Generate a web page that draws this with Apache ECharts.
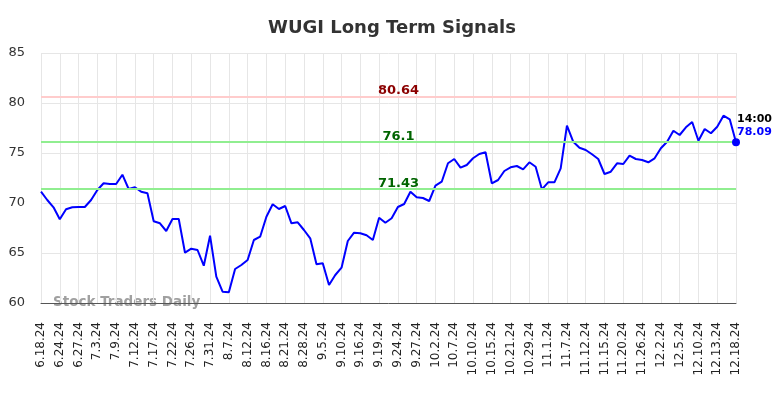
<!DOCTYPE html>
<html lang="en">
<head>
  <meta charset="UTF-8">
  <title>WUGI Long Term Signals</title>
  <script src="https://cdn.jsdelivr.net/npm/echarts@6/dist/echarts.min.js"></script>
  <style>
    body { margin: 0; background: #fff; }
    #chart { width: 784px; height: 398px; }
  </style>
</head>
<body>
<div id="chart"></div>
<script type="text/javascript">
  // x-axis tick labels, one every 3 points
  var tickLabels = ['6.18.24', '6.24.24', '6.27.24', '7.3.24', '7.9.24', '7.12.24', '7.17.24', '7.22.24',
    '7.26.24', '7.31.24', '8.7.24', '8.12.24', '8.16.24', '8.21.24', '8.28.24', '9.5.24', '9.10.24',
    '9.16.24', '9.19.24', '9.24.24', '9.27.24', '10.2.24', '10.7.24', '10.10.24', '10.15.24', '10.21.24',
    '10.29.24', '11.1.24', '11.7.24', '11.12.24', '11.15.24', '11.20.24', '11.26.24', '12.2.24', '12.5.24',
    '12.10.24', '12.13.24', '12.18.24'];

  var prices = [71.13, 70.3, 69.57, 68.37, 69.37, 69.57, 69.6, 69.6, 70.3, 71.3,
    71.97, 71.9, 71.9, 72.83, 71.4, 71.57, 71.13, 70.97, 68.18, 67.97,
    67.2, 68.4, 68.4, 65.03, 65.43, 65.3, 63.73, 66.73, 62.63, 61.13,
    61.07, 63.4, 63.8, 64.3, 66.3, 66.63, 68.63, 69.87, 69.4, 69.7,
    67.97, 68.07, 67.3, 66.47, 63.87, 63.97, 61.8, 62.8, 63.53, 66.2,
    67.03, 66.97, 66.77, 66.3, 68.53, 68.03, 68.47, 69.6, 69.9, 71.13,
    70.57, 70.5, 70.2, 71.73, 72.13, 73.97, 74.4, 73.53, 73.8, 74.47,
    74.9, 75.07, 71.97, 72.3, 73.2, 73.57, 73.7, 73.37, 74.07, 73.63,
    71.37, 72.07, 72.07, 73.47, 77.73, 76.13, 75.53, 75.3, 74.87, 74.4,
    72.9, 73.13, 73.97, 73.9, 74.73, 74.4, 74.3, 74.07, 74.47, 75.47,
    76.13, 77.23, 76.8, 77.57, 78.1, 76.23, 77.4, 76.97, 77.63, 78.73,
    78.37, 76.07];

  var signalLevels = [80.64, 76.1, 71.43];
  var lastTime = '14:00';
  var lastPriceText = '78.09';

  // one category per point, labelled every third
  var categories = prices.map(function (v, i) {
    return i % 3 === 0 ? tickLabels[i / 3] : '';
  });

  var myChart = echarts.init(document.getElementById('chart'));

  var option = {
    animation: false,
    title: {
      text: 'WUGI Long Term Signals',
      left: 'center',
      top: 14,
      textStyle: { fontFamily: 'DejaVu Sans', fontSize: 18, fontWeight: 'bold', color: '#333' }
    },
    grid: { left: 41, right: 48, top: 53, bottom: 95 },
    xAxis: {
      type: 'category',
      data: categories,
      boundaryGap: false,
      axisLine: { lineStyle: { color: '#555' } },
      axisTick: { show: false },
      axisLabel: {
        interval: 2,
        rotate: 90,
        margin: 19,
        fontFamily: 'DejaVu Sans',
        fontSize: 12,
        color: '#222'
      },
      splitLine: { show: true, interval: 2, lineStyle: { color: '#e6e6e6' } }
    },
    yAxis: {
      type: 'value',
      min: 60,
      max: 85,
      interval: 5,
      axisLine: { show: false },
      axisTick: { show: false },
      axisLabel: { fontFamily: 'DejaVu Sans', fontSize: 13, color: '#333', margin: 16 },
      splitLine: { lineStyle: { color: '#e6e6e6' } }
    },
    graphic: [{
      type: 'text',
      left: 53,
      top: 295,
      style: {
        text: 'Stock Traders Daily',
        fontFamily: 'DejaVu Sans',
        fontSize: 13.5,
        fontWeight: 'bold',
        fill: '#a0a0a0'
      }
    }],
    series: [{
      type: 'line',
      data: prices,
      showSymbol: false,
      lineStyle: { color: '#0000ff', width: 2 },
      itemStyle: { color: '#0000ff' },
      markLine: {
        silent: true,
        symbol: 'none',
        data: [
          { yAxis: signalLevels[0], lineStyle: { color: '#ffcccc', width: 2, type: 'solid' },
            label: { color: '#8b0000' } },
          { yAxis: signalLevels[1], lineStyle: { color: '#90ee90', width: 2, type: 'solid' },
            label: { color: '#006400' } },
          { yAxis: signalLevels[2], lineStyle: { color: '#90ee90', width: 2, type: 'solid' },
            label: { color: '#006400' } }
        ],
        label: {
          position: 'insideMiddleTop',
          distance: 2,
          offset: [10, 3],
          fontFamily: 'DejaVu Sans',
          fontSize: 13,
          fontWeight: 'bold',
          formatter: function (p) { return String(p.value); }
        }
      },
      markPoint: {
        symbol: 'circle',
        symbolSize: 8,
        itemStyle: { color: '#0000ff' },
        data: [{ coord: [prices.length - 1, prices[prices.length - 1]] }],
        label: {
          show: true,
          position: 'right',
          offset: [-8, -17],
          formatter: '{a|' + lastTime + '}\n{b|' + lastPriceText + '}',
          rich: {
            a: { fontFamily: 'DejaVu Sans', fontSize: 11, fontWeight: 'bold', color: '#000', lineHeight: 13 },
            b: { fontFamily: 'DejaVu Sans', fontSize: 11, fontWeight: 'bold', color: '#0000ff', lineHeight: 13 }
          }
        }
      }
    }]
  };

  myChart.setOption(option);
</script>
</body>
</html>
